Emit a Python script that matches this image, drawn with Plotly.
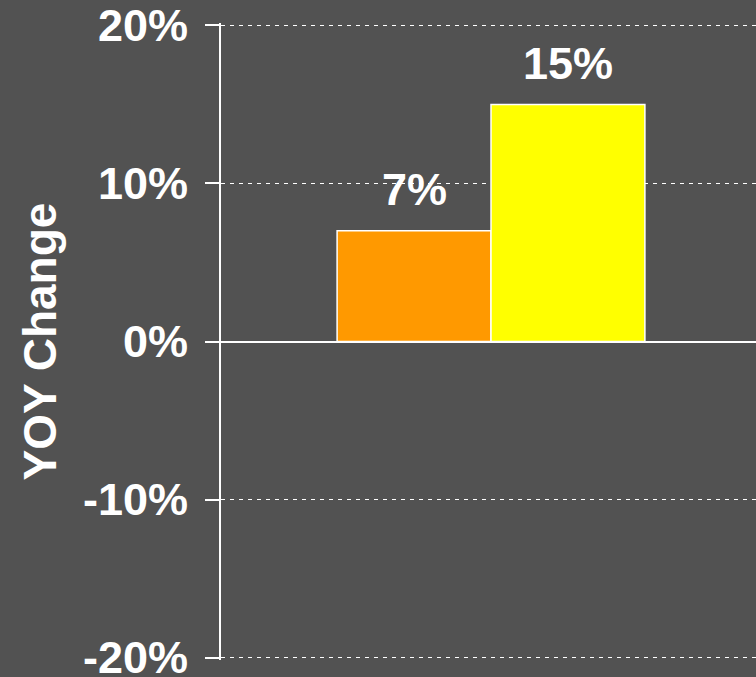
import plotly.graph_objects as go

categories = ["YOY"]
series_names = ["Series A", "Series B"]
series_values = [[0.07], [0.15]]
series_colors = ["#FF9900", "#FFFF00"]
label_texts = ["7%", "15%"]
ytick_vals = [-0.2, -0.1, 0.0, 0.1, 0.2]
ytick_text = ["-20%", "-10%", "0%", "10%", "20%"]

BG = "#525252"
FONT = "Liberation Sans, Arial, sans-serif"

fig = go.Figure()
for name, vals, col in zip(series_names, series_values, series_colors):
    fig.add_trace(go.Bar(
        x=categories, y=vals, name=name,
        marker=dict(color=col, line=dict(color="white", width=1.5)),
        showlegend=False,
    ))

for i, (vals, txt) in enumerate(zip(series_values, label_texts)):
    fig.add_annotation(
        x=categories[0], y=vals[0], text=f"<b>{txt}</b>", showarrow=False,
        xshift=(-77 if i == 0 else 77), yshift=41,
        font=dict(family=FONT, size=45, color="white"),
    )

fig.update_layout(
    width=756, height=677,
    paper_bgcolor=BG, plot_bgcolor=BG,
    margin=dict(l=221, r=0, t=23, b=17),
    barmode="group", bargap=0.43, bargroupgap=0,
    font=dict(family=FONT, color="white"),
    xaxis=dict(
        range=[-0.5, 0.5 - 5 / 540], showticklabels=False, showgrid=False,
        zeroline=False, showline=False, ticks="",
    ),
    yaxis=dict(
        range=[-0.2015, 0.2015], tickvals=ytick_vals, ticktext=[f"<b>{t}</b>" for t in ytick_text],
        tickfont=dict(family=FONT, size=45, color="white"),
        ticks="outside", ticklen=14, tickwidth=1.5, tickcolor="white",
        ticklabelstandoff=8, ticklabeloverflow="allow", automargin=False,
        showline=True, linecolor="white", linewidth=2,
        showgrid=True, gridcolor="white", gridwidth=1.3, griddash="4px,5px",
        zeroline=True, zerolinecolor="white", zerolinewidth=2,
        title=dict(text="<b>YOY Change</b>", font=dict(family=FONT, size=46, color="white"), standoff=12),
    ),
)

fig.write_html(
    "out.html",
    config={"displayModeBar": False},
    post_script="document.body.style.margin='0';document.body.style.background='#525252';",
)
